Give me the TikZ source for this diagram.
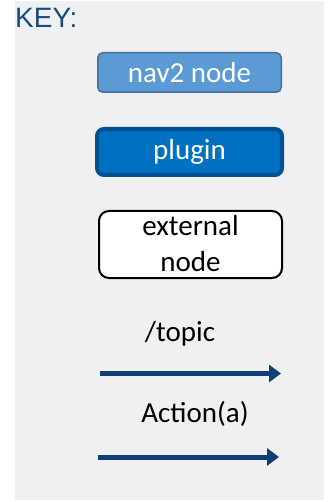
\documentclass[tikz,border=0pt]{standalone}
\usepackage{fontspec}
\setmainfont{Carlito}
\newfontfamily\keyfont{Liberation Sans}
\usetikzlibrary{arrows.meta}
\definecolor{panelgray}{RGB}{239,240,242}
\definecolor{keyblue}{RGB}{24,74,126}
\definecolor{navfill}{RGB}{91,155,213}
\definecolor{navedge}{RGB}{65,113,156}
\definecolor{plugfill}{RGB}{0,112,192}
\definecolor{plugedge}{RGB}{0,80,148}
\definecolor{arrowblue}{RGB}{14,62,118}
\tikzset{
  labelfont/.style={font=\fontsize{29}{37}\selectfont},
  navbox/.style={labelfont, draw=navedge, fill=navfill, text=white, line width=1.5pt,
    rounded corners=5pt, minimum width=183.5pt, minimum height=39.5pt, inner sep=0pt},
  plugbox/.style={labelfont, draw=plugedge, fill=plugfill, text=white, line width=4pt,
    rounded corners=7pt, minimum width=185pt, minimum height=46pt, inner sep=0pt},
  extbox/.style={draw=black, fill=white, line width=2pt,
    rounded corners=10pt, minimum width=183pt, minimum height=67pt, inner sep=0pt},
  edgetext/.style={labelfont, text=black, inner sep=0pt},
  link/.style={draw=arrowblue, line width=5pt, -{Triangle[length=12pt,width=17pt]}}
}
\begin{document}
\begin{tikzpicture}[x=1pt,y=-1pt]
  \useasboundingbox (0,0) rectangle (333,502);
  % panel background
  \fill[panelgray] (15,1) rectangle (324,500);
  % title
  \node[anchor=base west, inner sep=0pt, text=keyblue, font=\keyfont\fontsize{28}{32}\selectfont] (key) at (15,28) {KEY:};
  % legend boxes
  \node[navbox] (nav) at (189.5,72.5) {nav2 node};
  \node[plugbox] (plug) at (189.5,152) {plugin};
  \node[extbox] (ext) at (190.5,244.5) {};
  \node[edgetext, anchor=base] (extA) at (ext.center |- 0,235) {external};
  \node[edgetext, anchor=base] (extB) at (ext.center |- 0,271) {node};
  % topic arrow
  \node[edgetext, anchor=base] (topic) at (180,341) {/topic};
  \coordinate (ta) at (100,373.5);
  \coordinate (tb) at (281,373.5);
  \draw[link] (ta) -- (tb);
  % action arrow
  \node[edgetext, anchor=base] (action) at (195,422) {Action(a)};
  \coordinate (aa) at (98,457);
  \coordinate (ab) at (279,457);
  \draw[link] (aa) -- (ab);
\end{tikzpicture}
\end{document}
